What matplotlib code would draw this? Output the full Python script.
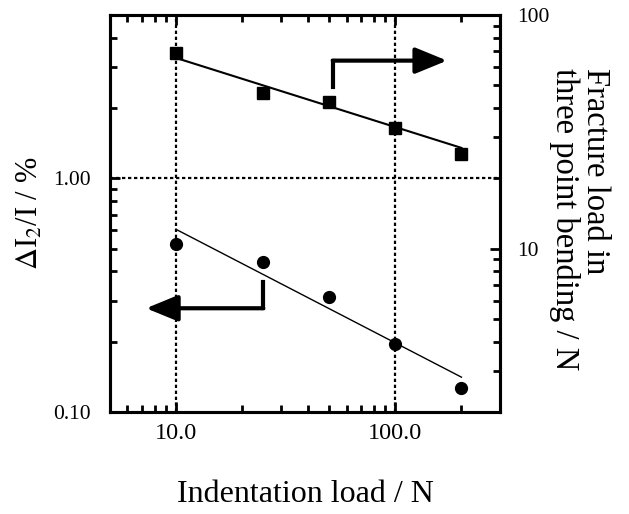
import numpy as np
import matplotlib
matplotlib.use('Agg')
import matplotlib.pyplot as plt
from matplotlib.ticker import FixedLocator, FixedFormatter, LogLocator, NullFormatter

# Dati
carico = [10, 25, 50, 100, 200]                 # Indentation load / N
rottura = [68.8, 46.4, 42.5, 32.9, 25.5]        # Fracture load (asse destro)
delta_i = [0.522, 0.438, 0.31, 0.195, 0.127]    # dI2/I % (asse sinistro)

# estremi delle rette di regressione
fit_x = [10, 200]
fit_rottura = [65.5, 27.0]
fit_delta = [0.605, 0.141]

plt.rcParams['font.family'] = ['Liberation Serif', 'DejaVu Serif']
plt.rcParams['mathtext.fontset'] = 'stix'

fig = plt.figure(figsize=(6.29, 5.14), dpi=100)
ax = fig.add_axes([0.1749, 0.1984, 0.6201, 0.7724])
ax2 = ax.twinx()

ax.set_xscale('log')
ax.set_yscale('log')
ax2.set_yscale('log')
ax.set_xlim(5, 300)
ax.set_ylim(0.1, 5)
ax2.set_ylim(2, 100)

# linee tratteggiate di riferimento
griglia = dict(color='black', lw=1.6, ls=(0, (1.5, 1.2)), zorder=1)
ax.axvline(10, **griglia)
ax.axvline(100, **griglia)
ax.axhline(1.0, **griglia)

# serie sinistra (cerchi)
ax.plot(carico, delta_i, 'o', color='black', ms=8.5, zorder=3)
ax.plot(fit_x, fit_delta, color='black', lw=1.0, zorder=2)

# serie destra (quadrati)
ax2.plot(carico, rottura, 's', color='black', ms=8.5, zorder=3)
ax2.plot(fit_x, fit_rottura, color='black', lw=1.5, zorder=2)

# frecce
stile = dict(arrowstyle='-|>,head_length=1.95,head_width=0.8', mutation_scale=10,
             lw=3, color='black', shrinkA=0, shrinkB=0)
ax.plot([51.8, 51.8], [2.45, 3.19], color='black', lw=3, solid_capstyle='projecting')
ax.annotate('', xy=(172, 3.19), xytext=(51.8, 3.19), arrowprops=stile)
ax.plot([25, 25], [0.359, 0.278], color='black', lw=3, solid_capstyle='projecting')
ax.annotate('', xy=(7.3, 0.278), xytext=(25, 0.278), arrowprops=stile)

# assi e tick
ax.xaxis.set_major_locator(FixedLocator([10, 100]))
ax.xaxis.set_major_formatter(FixedFormatter(['10.0', '100.0']))
ax.xaxis.set_minor_locator(LogLocator(base=10, subs=np.arange(2, 10)))
ax.xaxis.set_minor_formatter(NullFormatter())

ax.yaxis.set_major_locator(FixedLocator([0.1, 1.0]))
ax.yaxis.set_major_formatter(FixedFormatter(['0.10', '1.00']))
ax.yaxis.set_minor_locator(LogLocator(base=10, subs=np.arange(2, 10)))
ax.yaxis.set_minor_formatter(NullFormatter())

ax2.yaxis.set_major_locator(FixedLocator([10, 100]))
ax2.yaxis.set_major_formatter(FixedFormatter(['10', '100']))
ax2.yaxis.set_minor_locator(LogLocator(base=10, subs=np.arange(2, 10)))
ax2.yaxis.set_minor_formatter(NullFormatter())

ax.tick_params(axis='x', which='both', direction='in', top=True, width=2, labelsize=17.5, pad=8)
ax.tick_params(axis='x', which='major', length=7)
ax.tick_params(axis='x', which='minor', length=5)
ax.tick_params(axis='y', which='both', direction='in', right=False, width=2, labelsize=15.5, pad=14)
ax.tick_params(axis='y', which='major', length=7)
ax.tick_params(axis='y', which='minor', length=5)
ax2.tick_params(axis='y', which='both', direction='in', width=2, labelsize=15.5, pad=12)
ax2.tick_params(axis='y', which='major', length=7)
ax2.tick_params(axis='y', which='minor', length=5)

for a in (ax, ax2):
    for s in a.spines.values():
        s.set_linewidth(2.2)

ax.set_xlabel('Indentation load / N', fontsize=23, labelpad=26)
ax.set_ylabel(r'$\Delta$I$_2$/I / %', fontsize=22, labelpad=6)
ax2.text(1.205, 0.866, 'Fracture load in\nthree point bending / N', transform=ax2.transAxes,
         rotation=270, ha='center', va='top', multialignment='left', fontsize=23.5,
         linespacing=1.0)

fig.savefig('out.png', dpi=100)
